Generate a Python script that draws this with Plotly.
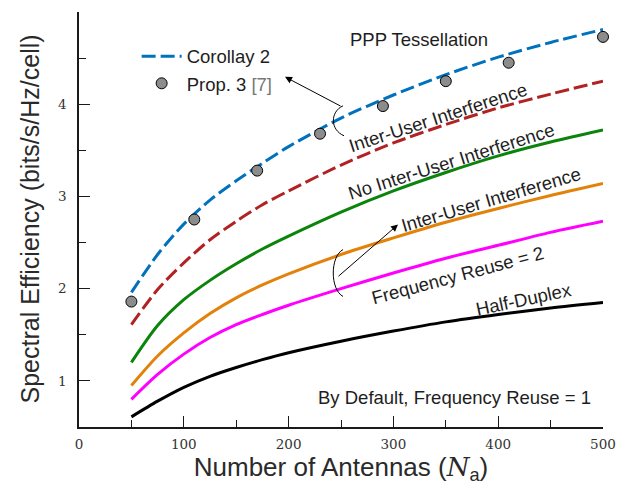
import plotly.graph_objects as go

# ---- data ----
antennas = [50, 75, 100, 125, 150, 175, 200, 250, 300, 350, 400, 450, 500]
corollary2 = [1.96, 2.37, 2.70, 2.96, 3.17, 3.36, 3.54, 3.85, 4.10, 4.32, 4.51, 4.67, 4.81]
iui_ppp = [1.61, 1.99, 2.28, 2.53, 2.73, 2.91, 3.06, 3.34, 3.58, 3.78, 3.96, 4.11, 4.25]
no_iui = [1.20, 1.60, 1.88, 2.09, 2.27, 2.43, 2.57, 2.83, 3.06, 3.26, 3.44, 3.59, 3.72]
iui = [0.95, 1.27, 1.52, 1.73, 1.90, 2.04, 2.16, 2.37, 2.55, 2.72, 2.87, 3.01, 3.14]
reuse2 = [0.80, 1.07, 1.29, 1.47, 1.61, 1.72, 1.82, 2.00, 2.17, 2.33, 2.47, 2.61, 2.73]
half_duplex = [0.61, 0.78, 0.93, 1.05, 1.145, 1.23, 1.305, 1.43, 1.54, 1.64, 1.72, 1.79, 1.85]

prop3_antennas = [50, 110, 170, 230, 290, 350, 410, 500]
prop3_values = [1.86, 2.75, 3.28, 3.68, 3.98, 4.25, 4.45, 4.73]

x_ticks = [0, 100, 200, 300, 400, 500]
y_ticks = [1, 2, 3, 4, 5]

SANS = "Liberation Sans, Arial, Helvetica, sans-serif"
SERIF = "DejaVu Serif, serif"
TXT = "#1e1e1e"

fig = go.Figure()

def curve(y, color, dash=None, name=None, show=False, group=None):
    fig.add_trace(go.Scatter(
        x=antennas, y=y, mode="lines", name=name, showlegend=show,
        legendgroup=group,
        line=dict(color=color, width=3, dash=dash, shape="spline", smoothing=0.8),
        cliponaxis=False, hoverinfo="skip"))

curve(corollary2, "#0072BD", dash="14px,5px", name="Corollay 2", show=True, group="a")
curve(half_duplex, "#000000")
curve(reuse2, "#FF00FF")
curve(iui, "#E2820A")
curve(no_iui, "#0A840A")
curve(iui_ppp, "#B22222", dash="14px,5px")
fig.add_trace(go.Scatter(
    x=prop3_antennas, y=prop3_values, mode="markers",
    name="Prop. 3 <span style='color:#777777'>[7]</span>",
    legendgroup="b", showlegend=True,
    marker=dict(size=11, color="#8C8C8C", line=dict(color="#000000", width=1)),
    cliponaxis=False, hoverinfo="skip"))

def px2d(px, py):
    return ((px - 79) / 1.048, 5 - (py - 12) / 92.4)

# brackets
def bracket(top, c1, c2, bot):
    pts = [px2d(*p) for p in (top, c1, c2, bot)]
    path = "M {:.2f},{:.4f} C {:.2f},{:.4f} {:.2f},{:.4f} {:.2f},{:.4f}".format(
        pts[0][0], pts[0][1], pts[1][0], pts[1][1], pts[2][0], pts[2][1], pts[3][0], pts[3][1])
    fig.add_shape(type="path", path=path, xref="x", yref="y",
                  line=dict(color="#000000", width=1))

bracket((343, 106), (330, 112), (330, 130), (344, 136))
bracket((343, 250), (330, 257), (330, 290), (343, 297))

# arrows
def arrow(head, tail):
    hx, hy = px2d(*head)
    tx, ty = px2d(*tail)
    fig.add_annotation(x=hx, y=hy, ax=tx, ay=ty, xref="x", yref="y",
                       axref="x", ayref="y", text="", showarrow=True,
                       arrowhead=2, arrowsize=1.4, arrowwidth=1, arrowcolor="#000000")

arrow((285, 77), (342, 107))
arrow((398, 225), (337, 278))

def label(text, px, py, angle=0, size=18.5):
    x, y = px2d(px, py)
    fig.add_annotation(x=x, y=y, xref="x", yref="y", text=text, showarrow=False,
                       textangle=angle, font=dict(family=SANS, size=size, color=TXT))

label("PPP Tessellation", 419, 40, 0)
label("Inter-User Interference", 438, 118, -18)
label("No Inter-User Interference", 451, 162, -17.5)
label("Inter-User Interference", 491, 200, -16.5)
label("Frequency Reuse = 2", 457, 276, -15)
label("Half-Duplex", 523, 300, -12)
label("By Default, Frequency Reuse = 1", 454, 398, 0)

# y-axis title
fig.add_annotation(x=0, y=0.5, xref="paper", yref="paper", xanchor="center", yanchor="middle",
                   xshift=-50, text="Spectral Efficiency (bits/s/Hz/cell)", textangle=-90,
                   showarrow=False, font=dict(family=SANS, size=25, color="#2a2a2a"))

axis_common = dict(
    showline=True, linecolor="#1a1a1a", linewidth=1.5, mirror=False,
    showgrid=False, zeroline=False, automargin=False,
    ticks="inside", ticklen=11, tickwidth=1.2, tickcolor="#1a1a1a",
    tickfont=dict(family=SERIF, size=13.5, color="#333333"),
)

# the page body adds an 8px margin around the figure
fig.update_layout(
    width=613, height=477,
    margin=dict(l=71, r=18, t=4, b=58),
    paper_bgcolor="white", plot_bgcolor="white",
    showlegend=True,
    legend=dict(x=0.11, y=0.938, xanchor="left", yanchor="top",
                bgcolor="rgba(0,0,0,0)", tracegroupgap=0, traceorder="grouped",
                font=dict(family=SANS, size=18.5, color=TXT), itemwidth=40),
    xaxis=dict(range=[0, 500], tickvals=x_ticks, ticklabelstandoff=4,
               minor=dict(dtick=50, tick0=0, ticklen=7, ticks="inside", tickcolor="#1a1a1a", tickwidth=1.2),
               title=dict(text="Number of Antennas (<span style='font-family:DejaVu Serif;font-style:italic'>N</span><sub>a</sub>)",
                          font=dict(family=SANS, size=26, color="#2a2a2a"), standoff=12),
               **axis_common),
    yaxis=dict(range=[0.5, 5], tickvals=y_ticks, ticklabelstandoff=8,
               minor=dict(dtick=0.5, tick0=0, ticklen=7, ticks="inside", tickcolor="#1a1a1a", tickwidth=1.2),
               **axis_common),
)

fig.write_html("out.html")
